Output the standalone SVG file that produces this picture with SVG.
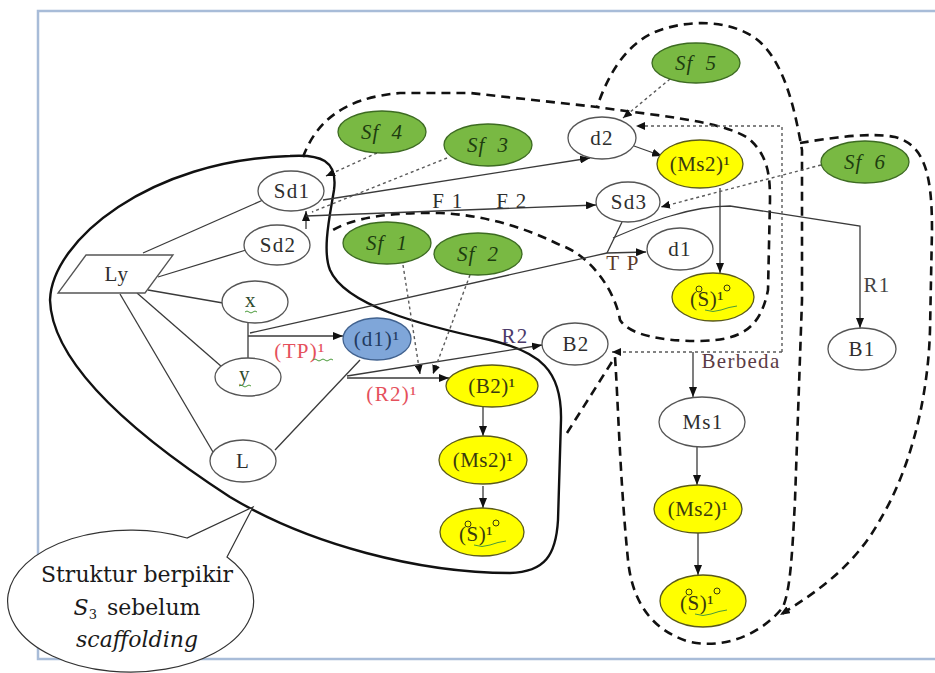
<svg xmlns="http://www.w3.org/2000/svg" width="935" height="673" viewBox="0 0 935 673">
<defs>
<marker id="ar" markerUnits="userSpaceOnUse" markerWidth="10" markerHeight="8" refX="10" refY="4" orient="auto-start-reverse"><path d="M0,0 L10,4 L0,8 Z" fill="#111" stroke="none"/></marker>
<marker id="ars" markerUnits="userSpaceOnUse" markerWidth="9" markerHeight="8" refX="9" refY="4" orient="auto-start-reverse"><path d="M0,0 L9,4 L0,8 Z" fill="#111" stroke="none"/></marker>
</defs>
<style>
.ln{fill:none;stroke:#3a3a3a;stroke-width:1.3}
.dt{fill:none;stroke:#5a5a5a;stroke-width:1.4;stroke-dasharray:3 3}
.dl{fill:none;stroke:#111;stroke-width:2.6;stroke-dasharray:9 6}
.th{fill:none;stroke:#111;stroke-width:2.4}
.wn{fill:#fff;stroke:#555;stroke-width:1.3}
.gn{fill:#79b943;stroke:#3d6b22;stroke-width:1.3}
.yn{fill:#ffff00;stroke:#5a5a1a;stroke-width:1.3}
.bn{fill:#7fa6d9;stroke:#41628f;stroke-width:1.3}
text{font-family:"Liberation Serif","Times New Roman",serif;font-size:21px;letter-spacing:1.3px;text-anchor:middle;fill:#2e2e2e}
.sf{font-style:italic;fill:#1e3d10;word-spacing:6px;letter-spacing:1px}
.yt{fill:#3a3a10;letter-spacing:0.5px}
.red{fill:#e5505c}
.sq{fill:none;stroke:#4a9a3a;stroke-width:1}
.cl{font-family:"DejaVu Serif","Liberation Serif",serif;font-size:22px;letter-spacing:0;fill:#1a1a1a}
</style>
<rect x="38" y="11" width="905" height="648" fill="#fff" stroke="#a8bcd8" stroke-width="2.5"/>

<g id="regions">
<path class="th" d="M290,156 C320,154 338,160 334,190 C330,215 322,250 330,270 C345,305 420,325 490,340 C540,352 562,370 561,420 L558,520 C556,555 545,572 510,573 C420,573 310,545 230,497 C150,445 52,370 50,300 C52,240 150,160 290,156 Z"/>
<path class="dl" d="M303,157 C315,125 340,98 400,93 L470,93 L597,107 C650,115 720,120 748,138 C768,155 770,175 770,200 L768,290 C760,330 740,340 700,341 C660,341 630,335 620,320 C615,290 590,255 560,245 C520,225 480,215 440,213 C390,212 350,218 330,232"/>
<path class="dl" d="M567,433 L615,357 C618,400 620,480 628,560 C632,600 650,630 690,642 C730,650 765,630 783,607 C790,590 792,560 795,500 L802,300 L802,150 C795,110 785,65 760,42 C735,20 690,18 655,32 C625,45 608,75 597,107"/>
<path class="dl" marker-end="url(#ar)" d="M800,143 C830,138 870,132 895,137 C925,145 932,175 932,230 L930,330 C928,400 910,470 880,520 C855,565 820,590 780,615"/>
</g>

<g id="connectors">
<path class="ln" d="M143,253 L263,200"/>
<path class="ln" d="M158,277 L246,250"/>
<path class="ln" d="M148,290 L223,303"/>
<path class="ln" d="M137,293 L222,367"/>
<path class="ln" d="M120,294 L213,452"/>
<path class="ln" d="M248,323 L248,358"/>
<path class="ln" marker-end="url(#ar)" d="M248,336 L343,336"/>
<path class="ln" marker-end="url(#ar)" d="M250,333 L607,253 L646,252"/>
<path class="ln" d="M360,360 L275,450"/>
<path class="ln" marker-end="url(#ar)" d="M347,378 L449,378"/>
<path class="ln" marker-end="url(#ar)" d="M347,376 L542,345"/>
<path class="ln" marker-end="url(#ar)" d="M323,200 L590,158"/>
<path class="ln" marker-end="url(#ar)" d="M306,229 L306,211"/>
<path class="ln" marker-end="url(#ar)" d="M306,216 L596,205"/>
<path class="ln" d="M622,222 L607,253"/>
<path class="ln" marker-end="url(#ar)" d="M613,238 C650,222 690,206 730,206 L860,226 L860,328"/>
<path class="ln" marker-end="url(#ar)" d="M634,146 L662,156"/>
<path class="ln" marker-end="url(#ar)" d="M720,188 L720,273"/>
<path class="ln" marker-end="url(#ar)" d="M693,352 L693,397"/>
<path class="ln" marker-end="url(#ar)" d="M697,447 L697,485"/>
<path class="ln" marker-end="url(#ar)" d="M698,533 L698,575"/>
<path class="ln" marker-end="url(#ar)" d="M483,407 L483,436"/>
<path class="ln" marker-end="url(#ar)" d="M483,486 L483,508"/>
<path class="dt" marker-end="url(#ars)" d="M377,153 L326,176"/>
<path class="dt" d="M447,158 L312,212"/>
<path class="dt" marker-end="url(#ars)" d="M670,79 L623,118"/>
<path class="dt" marker-end="url(#ars)" d="M821,165 L661,207"/>
<path class="dt" marker-end="url(#ars)" d="M403,265 L420,374"/>
<path class="dt" marker-end="url(#ars)" d="M470,275 L433,374"/>
<path class="dt" marker-end="url(#ars)" d="M782,352 L612,352"/>
<path class="dt" marker-end="url(#ars)" d="M782,352 L782,126 L636,126"/>
<text x="448" y="208">F 1</text>
<text x="512" y="208">F 2</text>
<text x="623" y="270" style="fill:#5a3a2a">T P</text>
<text x="877" y="292" style="fill:#444">R1</text>
<text x="515" y="343" style="fill:#4b3a6a">R2</text>
<text x="741" y="368" style="fill:#5b3b45">Berbeda</text>
<text x="300" y="358" class="red">(TP)¹</text>
<path class="sq" d="M313,360 q2,-2 4,0 t4,0 t4,0 t4,0 t4,0"/>
<text x="392" y="401" class="red">(R2)¹</text>
</g>

<g id="Ly"><polygon class="wn" points="86,255 173,255 145,293 58,293"/><text x="117" y="281">Ly</text></g>
<g id="Sd1"><ellipse class="wn" cx="291" cy="191" rx="33" ry="20"/><text x="292" y="198">Sd1</text></g>
<g id="Sd2"><ellipse class="wn" cx="277" cy="245" rx="33" ry="20"/><text x="278" y="252">Sd2</text></g>
<g id="x"><ellipse class="wn" cx="255" cy="302" rx="33" ry="21"/><text x="251" y="307" style="fill:#2d4a2d">x</text><path class="sq" d="M245,312 q2,-2 4,0 t4,0 t4,0"/></g>
<g id="y"><ellipse class="wn" cx="248" cy="377" rx="33" ry="19"/><text x="245" y="381" style="fill:#2d4a2d">y</text><path class="sq" d="M239,386 q2,-2 4,0 t4,0 t4,0"/></g>
<g id="L"><ellipse class="wn" cx="243" cy="461" rx="33" ry="21"/><text x="243" y="468">L</text></g>
<g id="d1b"><ellipse class="bn" cx="377" cy="339" rx="34" ry="21"/><text x="377" y="346" style="fill:#1f3a60;letter-spacing:1px">(d1)¹</text></g>
<g id="B2a"><ellipse class="yn" cx="492" cy="386" rx="46" ry="21"/><text x="492" y="393" class="yt">(B2)¹</text></g>
<g id="Ms2a"><ellipse class="yn" cx="483" cy="460" rx="44" ry="24"/><text x="483" y="467" class="yt">(Ms2)¹</text></g>
<g id="Sa"><ellipse class="yn" cx="482" cy="532" rx="42" ry="24"/><text x="476" y="541" class="yt">(S)¹</text><circle cx="468" cy="524" r="3" fill="none" stroke="#3a3a10"/><circle cx="496" cy="523" r="3" fill="none" stroke="#3a3a10"/><path class="sq" d="M474,545 q8,3 16,0 t16,-4"/></g>
<g id="B2"><ellipse class="wn" cx="575" cy="344" rx="33" ry="21"/><text x="576" y="351">B2</text></g>
<g id="d2"><ellipse class="wn" cx="602" cy="138" rx="34" ry="21"/><text x="602" y="145">d2</text></g>
<g id="Ms2b"><ellipse class="yn" cx="700" cy="164" rx="43" ry="24"/><text x="700" y="171" class="yt">(Ms2)¹</text></g>
<g id="Sd3"><ellipse class="wn" cx="628" cy="202" rx="32" ry="20"/><text x="629" y="209">Sd3</text></g>
<g id="d1"><ellipse class="wn" cx="680" cy="249" rx="33" ry="21"/><text x="680" y="256">d1</text></g>
<g id="Sb"><ellipse class="yn" cx="713" cy="297" rx="41" ry="24"/><text x="707" y="306" class="yt">(S)¹</text><circle cx="699" cy="289" r="3" fill="none" stroke="#3a3a10"/><circle cx="727" cy="288" r="3" fill="none" stroke="#3a3a10"/><path class="sq" d="M705,310 q8,3 16,0 t16,-4"/></g>
<g id="Sf5"><ellipse class="gn" cx="696" cy="63" rx="44" ry="20"/><text x="696" y="70" class="sf">Sf 5</text></g>
<g id="Sf6"><ellipse class="gn" cx="865" cy="162" rx="44" ry="21"/><text x="865" y="169" class="sf">Sf 6</text></g>
<g id="Sf4"><ellipse class="gn" cx="382" cy="132" rx="44" ry="21"/><text x="382" y="139" class="sf">Sf 4</text></g>
<g id="Sf3"><ellipse class="gn" cx="488" cy="145" rx="44" ry="21"/><text x="488" y="152" class="sf">Sf 3</text></g>
<g id="Sf1"><ellipse class="gn" cx="387" cy="243" rx="44" ry="21"/><text x="387" y="250" class="sf">Sf 1</text></g>
<g id="Sf2"><ellipse class="gn" cx="478" cy="254" rx="44" ry="21"/><text x="478" y="261" class="sf">Sf 2</text></g>
<g id="B1"><ellipse class="wn" cx="862" cy="349" rx="34" ry="21"/><text x="862" y="356">B1</text></g>
<g id="Ms1"><ellipse class="wn" cx="702" cy="422" rx="43" ry="25"/><text x="703" y="429">Ms1</text></g>
<g id="Ms2c"><ellipse class="yn" cx="698" cy="509" rx="44" ry="24"/><text x="698" y="516" class="yt">(Ms2)¹</text></g>
<g id="Sc"><ellipse class="yn" cx="703" cy="601" rx="43" ry="26"/><text x="697" y="610" class="yt">(S)¹</text><circle cx="689" cy="592" r="3" fill="none" stroke="#3a3a10"/><circle cx="717" cy="591" r="3" fill="none" stroke="#3a3a10"/><path class="sq" d="M695,614 q8,3 16,0 t16,-4"/></g>

<g id="callout">
<path d="M227,557 L253,507 L187,538 A123,71 0 1 0 227,557 Z" fill="#fff" stroke="#333" stroke-width="1.2"/>
<text x="137" y="582" class="cl">Struktur berpikir</text>
<text x="137" y="615" class="cl"><tspan font-style="italic">S</tspan><tspan font-size="13" dy="4">3</tspan><tspan dy="-4" dx="10">sebelum</tspan></text>
<text x="137" y="647" class="cl" font-style="italic">scaffolding</text>
</g>
</svg>
